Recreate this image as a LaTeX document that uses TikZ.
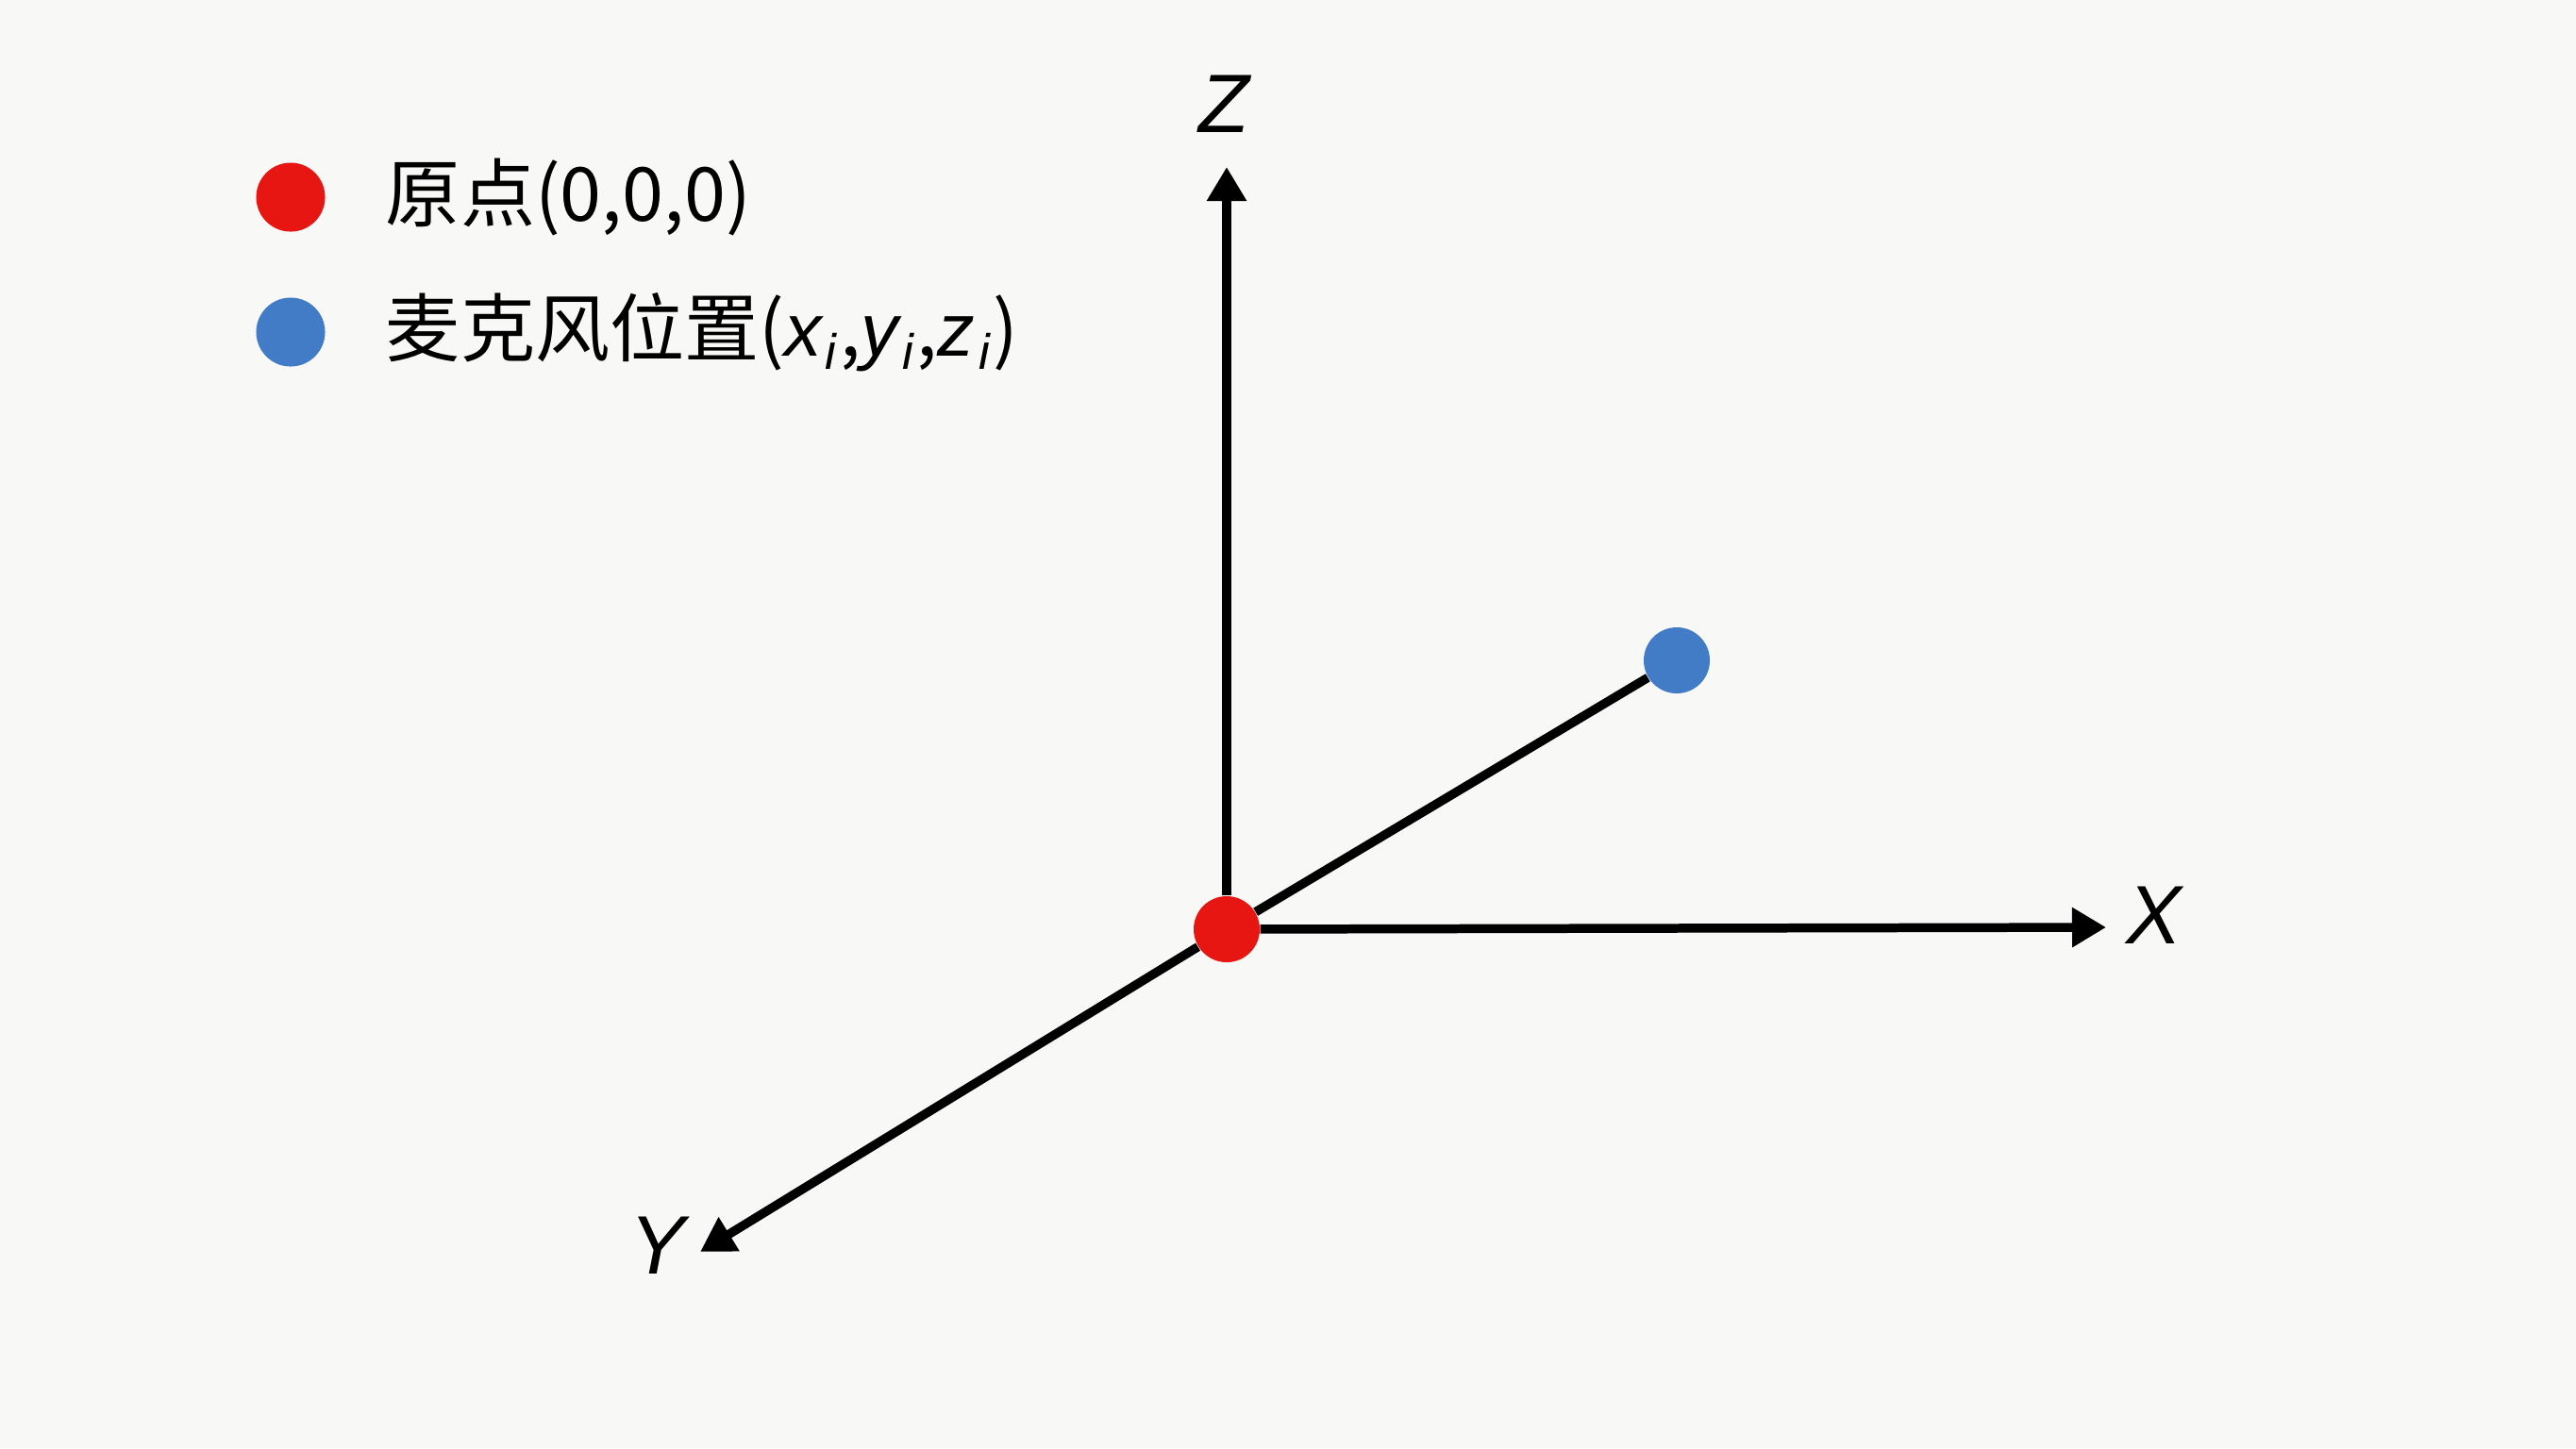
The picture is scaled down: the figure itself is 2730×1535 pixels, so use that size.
\documentclass[tikz,border=0pt]{standalone}
\usepackage{fontspec}
\setmainfont{Liberation Sans}
\newfontfamily\cjk{Noto Sans CJK SC}
\newfontfamily\latin{Liberation Sans}
\usetikzlibrary{arrows.meta,positioning}
\definecolor{bgpaper}{RGB}{248,248,246}
\definecolor{dotred}{RGB}{232,22,18}
\definecolor{dotblue}{RGB}{66,124,199}
\newcommand{\coordsub}[1]{{\latin\itshape #1\kern0.05em\raisebox{-0.35ex}{\fontsize{15}{18}\selectfont i}\kern0.05em}}

\begin{document}
\begin{tikzpicture}[x=0.01cm,y=-0.01cm,
  axis/.style={line width=2.7pt,-{Triangle[length=0.36cm,width=0.40cm]}},
  dot/.style={circle,minimum size=0.7cm,inner sep=0pt},
  axlbl/.style={font=\fontsize{25}{30}\selectfont\latin\itshape},
  legtxt/.style={font=\fontsize{22.5}{27}\selectfont\cjk,inner sep=0pt,anchor=west}]
\fill[bgpaper] (0,0) rectangle (2730,1535);
\useasboundingbox (0,0) rectangle (2730,1535);
% legend
\node[dot,fill=dotred,minimum size=0.73cm] (legred) at (308,209) {};
\node[dot,fill=dotblue,minimum size=0.73cm] (legblue) at (308,352) {};
\node[legtxt,right=0.63cm of legred] (legredtxt) {原点(0,0,0)};
\node[legtxt,right=0.63cm of legblue] (legbluetxt) {麦克风位置(\coordsub{x},\coordsub{y},\coordsub{z})};
% axes
\coordinate (zend) at (1300,177);
\coordinate (xend) at (2232,983);
\coordinate (yend) at (742,1327);
\node[dot,fill=dotred] (O) at (1300,985) {};
\node[dot,fill=dotblue] (mic) at (1777,700) {};
\draw[axis] (O) -- (zend);
\draw[axis] (O) -- (xend);
\draw[axis] (O) -- (yend);
\draw[line width=2.7pt] (O) -- (mic);
\node[axlbl] (zlab) at (1297,110) {Z};
\node[axlbl] (xlab) at (2283,970) {X};
\node[axlbl] (ylab) at (697,1320) {Y};
\end{tikzpicture}
\end{document}
